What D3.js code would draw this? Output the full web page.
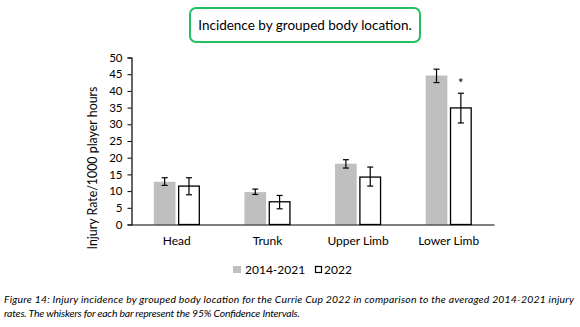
<!DOCTYPE html>
<html><head><meta charset="utf-8">
<script src="https://cdn.jsdelivr.net/npm/d3@7"></script>
<style>
html,body{margin:0;padding:0;background:#fff;}
svg{display:block;}
</style></head>
<body>
<svg id="chart" width="580" height="327"></svg>
<script>
const categories = ["Head", "Trunk", "Upper Limb", "Lower Limb"];
const seriesNames = ["2014-2021", "2022"];
const values2014_2021 = [12.8, 9.7, 18.2, 44.6];
const low2014_2021 = [11.7, 9.0, 16.9, 42.5];
const high2014_2021 = [14.0, 10.6, 19.4, 46.5];
const values2022 = [11.5, 6.8, 14.2, 34.9];
const low2022 = [8.9, 4.7, 11.5, 30.4];
const high2022 = [14.0, 8.7, 17.2, 39.3];
const yTicks = [0, 5, 10, 15, 20, 25, 30, 35, 40, 45, 50];
const significant = [false, false, false, true];
const title = "Incidence by grouped body location.";
const yLabel = "Injury Rate/1000 player hours";
const captionLines = [
  "Figure 14: Injury incidence by grouped body location for the Currie Cup 2022 in comparison to the averaged 2014-2021 injury",
  "rates. The whiskers for each bar represent the 95% Confidence Intervals."
];

const series = [
  {name: seriesNames[0], vals: values2014_2021, lo: low2014_2021, hi: high2014_2021, fill: "#bfbfbf", stroke: "none"},
  {name: seriesNames[1], vals: values2022, lo: low2022, hi: high2022, fill: "#ffffff", stroke: "#000"}
];

const svg = d3.select("#chart");
const font = "Lato, 'Open Sans', sans-serif";

// Title box
svg.append("rect").attr("x", 190).attr("y", 8).attr("width", 230).attr("height", 34)
  .attr("rx", 6).attr("fill", "#fff").attr("stroke", "#22c063").attr("stroke-width", 2);
svg.append("text").attr("x", 305).attr("y", 30).attr("text-anchor", "middle")
  .attr("font-family", font).attr("font-size", 13.5).attr("fill", "#000").text(title);

const x0 = 131.5, x1 = 494, yTop = 57.5, yBot = 224.5;
const x = d3.scaleBand().domain(categories).range([x0, x1]);
const y = d3.scaleLinear().domain([0, 50]).range([yBot, yTop]);
const xs = d3.scaleBand().domain(seriesNames).range([0, 46]).paddingInner(0.11);

const g = svg.append("g");
series.forEach(s => {
  const off = xs(s.name);
  const bw = xs.bandwidth();
  categories.forEach((c, i) => {
    const bx = x(c) + x.bandwidth() / 2 - 23 + off;
    g.append("rect")
      .attr("x", bx + (s.stroke === "none" ? 0 : 0.5))
      .attr("y", y(s.vals[i]))
      .attr("width", s.stroke === "none" ? bw : bw - 1)
      .attr("height", y(0) - y(s.vals[i]))
      .attr("fill", s.fill).attr("stroke", s.stroke).attr("stroke-width", 1.3);
    const cx = bx + bw / 2;
    g.append("line").attr("x1", cx).attr("x2", cx).attr("y1", y(s.hi[i])).attr("y2", y(s.lo[i]))
      .attr("stroke", "#000").attr("stroke-width", 1.2);
    [s.hi[i], s.lo[i]].forEach(v => {
      g.append("line").attr("x1", cx - 3).attr("x2", cx + 3).attr("y1", y(v)).attr("y2", y(v))
        .attr("stroke", "#000").attr("stroke-width", 1.2);
    });
    if (s.name === "2022" && significant[i]) {
      g.append("text").attr("x", cx).attr("y", y(s.hi[i]) - 5).attr("text-anchor", "middle")
        .attr("font-family", font).attr("font-size", 13).attr("fill", "#000").text("*");
    }
  });
});

// Y axis
const yAxis = d3.axisLeft(y).tickValues(yTicks).tickSize(4).tickPadding(5);
const ya = svg.append("g").attr("transform", `translate(${x0},0)`).call(yAxis);
ya.select(".domain").attr("stroke", "#000").attr("stroke-width", 1.2);
ya.selectAll(".tick line").attr("stroke", "#000");
ya.selectAll(".tick text").attr("font-family", font).attr("font-size", 11.5).attr("fill", "#000");

// X axis
const xAxis = d3.axisBottom(x).tickSize(0).tickPadding(12);
const xa = svg.append("g").attr("transform", `translate(0,${yBot})`).call(xAxis);
xa.select(".domain").attr("stroke", "#000").attr("stroke-width", 1.2);
xa.selectAll(".tick text").attr("font-family", font).attr("font-size", 12).attr("fill", "#000");

// Y label
svg.append("text").attr("transform", "translate(97,168) rotate(-90)").attr("text-anchor", "middle")
  .attr("font-family", font).attr("font-size", 12.4).attr("fill", "#000").text(yLabel);

// Legend
const leg = svg.append("g");
leg.append("rect").attr("x", 233).attr("y", 266).attr("width", 8).attr("height", 7).attr("fill", "#bfbfbf");
leg.append("text").attr("x", 245).attr("y", 274).attr("font-family", font).attr("font-size", 12).text(seriesNames[0]);
leg.append("rect").attr("x", 315.5).attr("y", 266.5).attr("width", 6).attr("height", 6).attr("fill", "#fff").attr("stroke", "#000").attr("stroke-width", 1.2);
leg.append("text").attr("x", 324).attr("y", 274).attr("font-family", font).attr("font-size", 12).text(seriesNames[1]);

// Caption
const capLens = [570, 296];
captionLines.forEach((t, i) => {
  svg.append("text").attr("x", 4).attr("y", 303 + i * 13.5)
    .attr("font-family", font).attr("font-style", "italic").attr("font-size", 10.4).attr("fill", "#000")
    .attr("textLength", capLens[i]).attr("lengthAdjust", "spacing")
    .text(t);
});
</script>
</body></html>
